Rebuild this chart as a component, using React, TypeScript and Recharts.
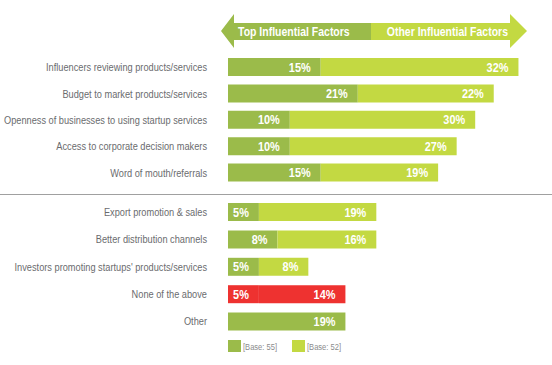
import React from 'react';
import { BarChart, Bar, XAxis, YAxis, Cell, LabelList } from 'recharts';

const FONT = "'Liberation Sans', Arial, sans-serif";
const NARROW = 0.84; // horizontal squeeze to mimic the condensed face
const DARK = '#9bbb4a';
const LIGHT = '#c3d942';
const RED = '#ee3230';
const TEXT = '#6a6b6e';

// header / legend text
const SERIES_NAMES = ['Top Influential Factors', 'Other Influential Factors'];
const BASE_LABELS = ['[Base: 55]', '[Base: 52]'];

// upper block
const upperCategories = [
    'Influencers reviewing products/services',
    'Budget to market products/services',
    'Openness of businesses to using startup services',
    'Access to corporate decision makers',
    'Word of mouth/referrals',
];
const upperTop = [15, 21, 10, 10, 15];
const upperOther = [32, 22, 30, 27, 19];

// lower block
const lowerCategories = [
    'Export promotion & sales',
    'Better distribution channels',
    "Investors promoting startups' products/services",
    'None of the above',
    'Other',
];
const lowerTop = [5, 8, 5, 5, 19];
const lowerOther = [19, 16, 8, 14, 0];

const HIGHLIGHT = 'None of the above';

type Row = { name: string; top: number; other: number };

const toRows = (names: string[], top: number[], other: number[]): Row[] =>
    names.map((name, i) => ({ name, top: top[i], other: other[i] }));

function NarrowText({ x, y, children, anchor = 'start', size, fill, weight = 400 }: any) {
    return (
        <g transform={`translate(${x},${y}) scale(${NARROW},1)`}>
            <text x={0} y={0} textAnchor={anchor} fontSize={size} fill={fill} fontWeight={weight} fontFamily={FONT}>
                {children}
            </text>
        </g>
    );
}

function CategoryTick({ x, y, payload }: any) {
    return (
        <NarrowText x={x} y={y + 4} anchor="end" size={11} fill={TEXT}>
            {payload.value}
        </NarrowText>
    );
}

function ValueLabel({ x, y, width, height, value }: any) {
    if (!value) return null;
    return (
        <NarrowText x={x + width - 10} y={y + height / 2 + 4.5} anchor="end" size={13} fill="#fff" weight={700}>
            {`${value}%`}
        </NarrowText>
    );
}

function FactorChart({ rows, height }: { rows: Row[]; height: number }) {
    return (
        <BarChart layout="vertical" width={552} height={height} data={rows} margin={{ top: 0, right: 15, bottom: 0, left: 0 }} barSize={18}>
            <XAxis type="number" domain={[0, 50]} hide />
            <YAxis
                type="category"
                dataKey="name"
                width={228}
                interval={0}
                tickLine={false}
                axisLine={false}
                tickSize={0}
                tickMargin={21}
                tick={<CategoryTick />}
            />
            <Bar dataKey="top" stackId="a" fill={DARK} isAnimationActive={false}>
                {rows.map((r, i) => (
                    <Cell key={`t-${i}`} fill={r.name === HIGHLIGHT ? RED : DARK} />
                ))}
                <LabelList dataKey="top" content={<ValueLabel />} />
            </Bar>
            <Bar dataKey="other" stackId="a" fill={LIGHT} isAnimationActive={false}>
                {rows.map((r, i) => (
                    <Cell key={`o-${i}`} fill={r.name === HIGHLIGHT ? RED : LIGHT} />
                ))}
                <LabelList dataKey="other" content={<ValueLabel />} />
            </Bar>
        </BarChart>
    );
}

function Header() {
    return (
        <svg width={552} height={55} style={{ position: 'absolute', left: 0, top: 0 }}>
            <polygon points="221,31 234,14 234,23 371,23 371,40 234,40 234,48" fill={DARK} />
            <polygon points="371,23 510,23 510,14 527,31 510,48 510,40 371,40" fill={LIGHT} />
            <NarrowText x={238} y={36} size={12.5} fill="#fff" weight={700}>
                {SERIES_NAMES[0]}
            </NarrowText>
            <NarrowText x={508} y={36} anchor="end" size={12.5} fill="#fff" weight={700}>
                {SERIES_NAMES[1]}
            </NarrowText>
        </svg>
    );
}

function BaseLegend() {
    const swatches = [DARK, LIGHT];
    return (
        <svg width={200} height={20} style={{ position: 'absolute', left: 220, top: 336 }}>
            {swatches.map((c, i) => (
                <g key={c} transform={`translate(${8 + i * 64},4)`}>
                    <rect x={0} y={0} width={13} height={12} fill={c} />
                    <NarrowText x={15} y={9.5} size={9} fill="#8a8b8d">
                        {BASE_LABELS[i]}
                    </NarrowText>
                </g>
            ))}
        </svg>
    );
}

export default function App() {
    const upper = toRows(upperCategories, upperTop, upperOther);
    const lower = toRows(lowerCategories, lowerTop, lowerOther);

    return (
        <div style={{ position: 'absolute', left: 0, top: 0, width: 552, height: 365, background: '#fff' }}>
            <Header />
            <div style={{ position: 'absolute', left: 0, top: 54 }}>
                <FactorChart rows={upper} height={132} />
            </div>
            <div style={{ position: 'absolute', left: 0, top: 194, width: 552, height: 1, background: '#a0a0a0' }} />
            <div style={{ position: 'absolute', left: 0, top: 198 }}>
                <FactorChart rows={lower} height={137} />
            </div>
            <BaseLegend />
        </div>
    );
}
